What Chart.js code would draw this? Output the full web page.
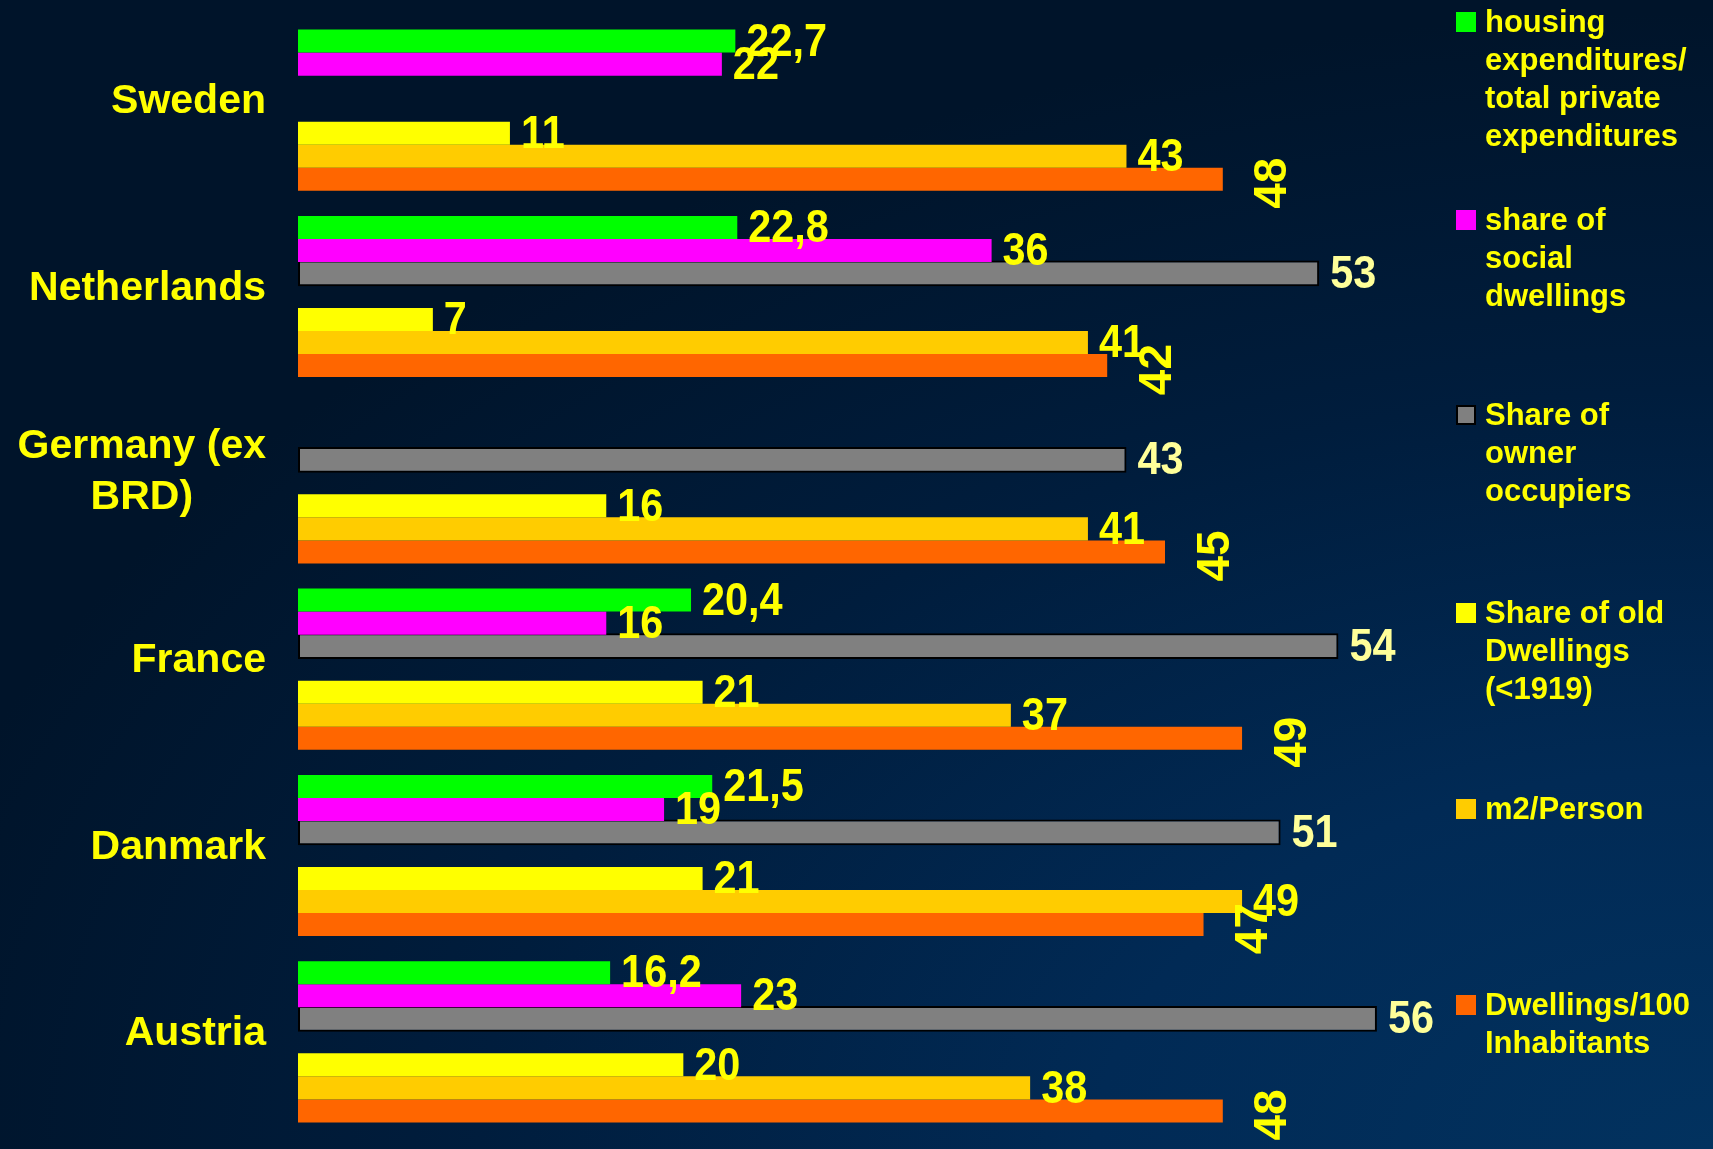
<!DOCTYPE html>
<html>
<head>
<meta charset="utf-8">
<script src="https://cdn.jsdelivr.net/npm/chart.js@4/dist/chart.umd.min.js"></script>
<style>
  html, body { margin: 0; padding: 0; }
  body {
    width: 1713px; height: 1149px; overflow: hidden; position: relative;
    background: radial-gradient(ellipse 120% 110% at 100% 100%, #02325f 0%, #012a55 30%, #001d3d 60%, #00142a 90%);
    font-family: "Liberation Sans", Arial, sans-serif;
  }
  #wrap { position: absolute; left: 0; top: 0; width: 1713px; height: 1149px; }
  .lg { position: absolute; left: 1456px; color: #ffff00; font-weight: bold; font-size: 31px; line-height: 38px; }
  .lg .sw { position: absolute; left: 0; top: 9px; width: 20px; height: 20px; box-sizing: border-box; }
  .lg .tx { position: absolute; left: 29px; top: 0; white-space: nowrap; }
</style>
</head>
<body>
<div id="wrap"><canvas id="c" width="1713" height="1149"></canvas></div>
<div id="legend"></div>
<script>
// ---- data ----
const categories = ['Sweden', 'Netherlands', ['Germany (ex', 'BRD)'], 'France', 'Danmark', 'Austria'];
const housingExpenditures = [22.7, 22.8, null, 20.4, 21.5, 16.2];
const socialDwellings     = [22, 36, null, 16, 19, 23];
const ownerOccupiers      = [null, 53, 43, 54, 51, 56];
const emptySeries         = [null, null, null, null, null, null];
const oldDwellings        = [11, 7, 16, 21, 21, 20];
const m2PerPerson         = [43, 41, 41, 37, 49, 38];
const dwellingsPer100     = [48, 42, 45, 49, 47, 48];

const seriesNames = [
  ['housing', 'expenditures/', 'total private', 'expenditures'],
  ['share of', 'social', 'dwellings'],
  ['Share of', 'owner', 'occupiers'],
  ['Share of old', 'Dwellings', '(<1919)'],
  ['m2/Person'],
  ['Dwellings/100', 'Inhabitants']
];
const seriesColors = ['#00ff00', '#ff00ff', '#808080', '#ffff00', '#ffcc00', '#ff6600'];

const FONT = '"Liberation Sans", Arial, sans-serif';

const datasets = [
  { label: seriesNames[0].join(' '), data: housingExpenditures, backgroundColor: seriesColors[0] },
  { label: seriesNames[1].join(' '), data: socialDwellings, backgroundColor: seriesColors[1] },
  { label: seriesNames[2].join(' '), data: ownerOccupiers, backgroundColor: seriesColors[2],
    borderColor: '#000000', borderWidth: 2, borderSkipped: false, barPercentage: 1.12 },
  { label: '', data: emptySeries, backgroundColor: 'rgba(0,0,0,0)' },
  { label: seriesNames[3].join(' '), data: oldDwellings, backgroundColor: seriesColors[3] },
  { label: seriesNames[4].join(' '), data: m2PerPerson, backgroundColor: seriesColors[4] },
  { label: seriesNames[5].join(' '), data: dwellingsPer100, backgroundColor: seriesColors[5] }
];

// category labels drawn right-aligned, multi-line centred
const categoryLabels = {
  id: 'categoryLabels',
  afterDraw(chart) {
    const ctx = chart.ctx;
    const y = chart.scales.y;
    ctx.save();
    ctx.font = 'bold 41px ' + FONT;
    ctx.fillStyle = '#ffff00';
    ctx.textBaseline = 'middle';
    ctx.textAlign = 'center';
    const right = chart.chartArea.left - 32;
    categories.forEach((cat, i) => {
      const lines = Array.isArray(cat) ? cat : [cat];
      const w = Math.max(...lines.map(l => ctx.measureText(l).width));
      const cx = right - w / 2;
      const cy = y.getPixelForValue(i) - (lines.length > 1 ? 11 : 8);
      const lh = 51;
      const top = cy - (lines.length - 1) * lh / 2;
      lines.forEach((l, k) => ctx.fillText(l, cx, top + k * lh));
    });
    ctx.restore();
  }
};

// value labels
const valueLabels = {
  id: 'valueLabels',
  afterDatasetsDraw(chart) {
    const ctx = chart.ctx;
    ctx.save();
    ctx.font = 'bold 46px ' + FONT;
    ctx.textBaseline = 'middle';
    chart.data.datasets.forEach((ds, di) => {
      const meta = chart.getDatasetMeta(di);
      meta.data.forEach((bar, i) => {
        const v = ds.data[i];
        if (v === null || v === undefined) return;
        const txt = String(v).replace('.', ',');
        ctx.fillStyle = (di === 2) ? '#ffff99' : '#ffff00';
        ctx.save();
        if (di === 6) {
          ctx.translate(bar.x + 51, bar.y + 4);
          ctx.rotate(-Math.PI / 2);
          ctx.textAlign = 'center';
        } else {
          ctx.translate(bar.x + 11, bar.y + 2);
          ctx.scale(0.9, 1);
          ctx.textAlign = 'left';
        }
        ctx.fillText(txt, 0, 0);
        ctx.restore();
      });
    });
    ctx.restore();
  }
};

new Chart(document.getElementById('c'), {
  type: 'bar',
  data: { labels: categories, datasets: datasets },
  options: {
    indexAxis: 'y',
    responsive: false,
    animation: false,
    events: [],
    categoryPercentage: 0.865,
    barPercentage: 1.0,
    layout: { padding: { left: 298, right: 259, top: 17, bottom: 14 } },
    scales: {
      x: { type: 'linear', min: 0, max: 60, display: false },
      y: { type: 'category', display: false }
    },
    plugins: { legend: { display: false }, tooltip: { enabled: false } }
  },
  plugins: [valueLabels, categoryLabels]
});

// HTML legend
const legendTops = [22, 220, 415, 613, 809, 1005];
const legendEl = document.getElementById('legend');
seriesNames.forEach((lines, i) => {
  const d = document.createElement('div');
  d.className = 'lg';
  d.style.top = (legendTops[i] - 19) + 'px';
  const sw = document.createElement('div');
  sw.className = 'sw';
  sw.style.background = seriesColors[i];
  if (i === 2) sw.style.border = '2px solid #000';
  const tx = document.createElement('div');
  tx.className = 'tx';
  tx.innerHTML = lines.map(l => l.replace(/&/g, '&amp;').replace(/</g, '&lt;')).join('<br>');
  d.appendChild(sw);
  d.appendChild(tx);
  legendEl.appendChild(d);
});
</script>
</body>
</html>
